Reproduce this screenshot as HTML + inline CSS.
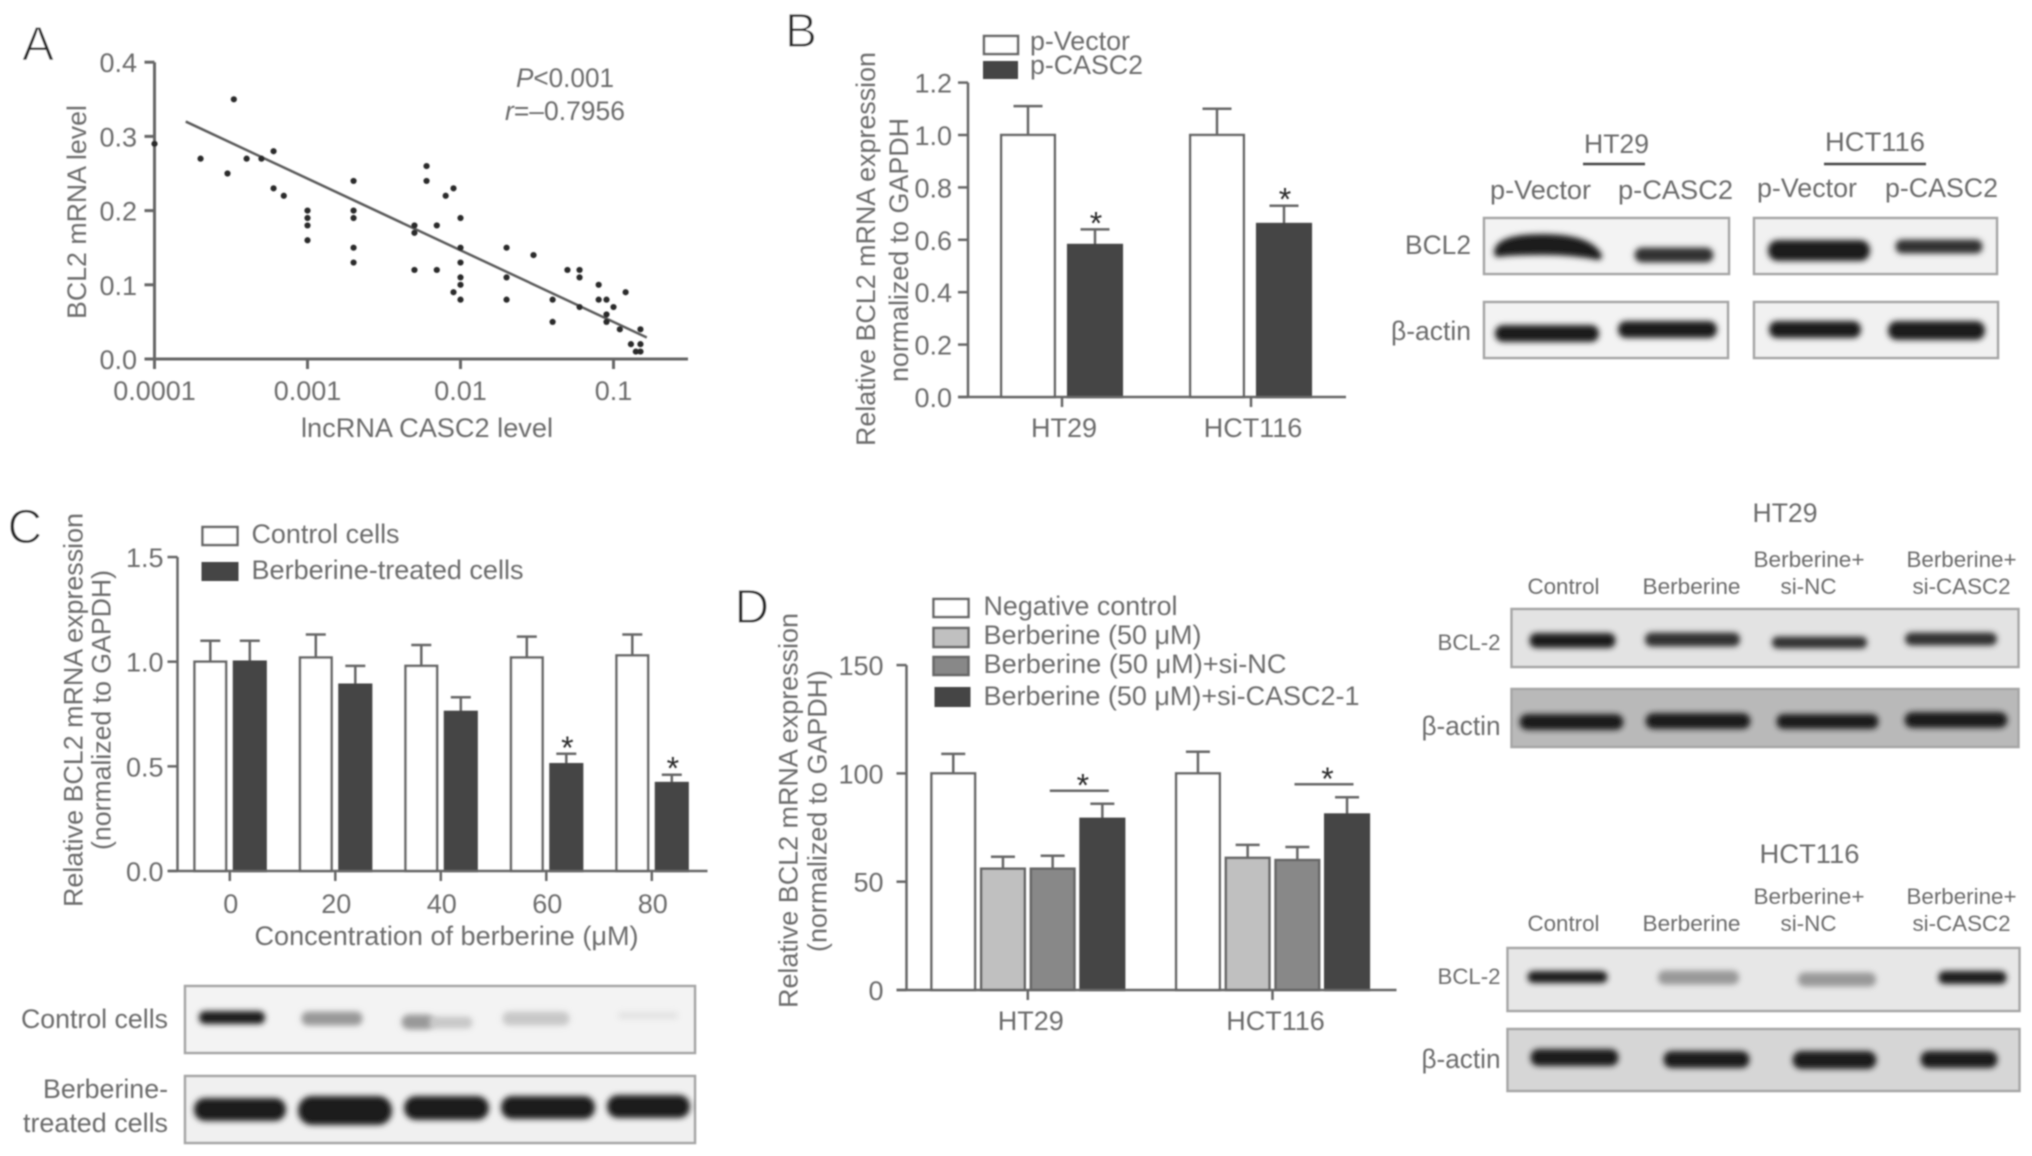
<!DOCTYPE html>
<html lang="en">
<head>
<meta charset="utf-8">
<title>BCL2 expression figure</title>
<style>
html,body{margin:0;padding:0;background:#fff;width:2032px;height:1156px;overflow:hidden}
svg{display:block}
text{font-family:"Liberation Sans",sans-serif;font-size:27px;fill:#6c6c6c}
.letter{font-size:48px;fill:#2a2a2a;stroke:#fff;stroke-width:1px}
.small{font-size:22.5px}
.box{stroke:#a6a6a6;stroke-width:2.5}
.dk{fill:#1b1b1b;stroke:#1b1b1b;stroke-width:8;stroke-linejoin:round;filter:url(#band)}
.md{fill:#333;stroke:#333;stroke-width:5;stroke-linejoin:round;filter:url(#band)}
.lt{fill:#999;stroke:#999;stroke-width:5;stroke-linejoin:round;filter:url(#band)}
.fa{fill:#c8c8c8;stroke:#c8c8c8;stroke-width:5;stroke-linejoin:round;filter:url(#band)}
</style>
</head>
<body>
<svg id="figure" xmlns="http://www.w3.org/2000/svg" width="2032" height="1156" viewBox="0 0 2032 1156">
<defs>
<filter id="soft" filterUnits="userSpaceOnUse" x="0" y="0" width="2032" height="1156"><feGaussianBlur stdDeviation="0.8"/></filter>
<filter id="band" filterUnits="userSpaceOnUse" x="-20" y="-20" width="2072" height="1196"><feGaussianBlur stdDeviation="3"/></filter>
</defs>
<rect width="2032" height="1156" fill="#fff"/>
<g id="root" filter="url(#soft)">

<!-- Panel A -->
<g id="panelA">
<text class="letter" x="22" y="60">A</text>
<text x="516" y="87" textLength="98" lengthAdjust="spacingAndGlyphs"><tspan font-style="italic">P</tspan>&lt;0.001</text>
<text x="505" y="120" textLength="120" lengthAdjust="spacingAndGlyphs"><tspan font-style="italic">r</tspan>=–0.7956</text>
<text x="301" y="437" textLength="252" lengthAdjust="spacingAndGlyphs">lncRNA CASC2 level</text>
<text transform="translate(86 319) rotate(-90)" textLength="214" lengthAdjust="spacingAndGlyphs">BCL2 mRNA level</text>
</g>

<!-- Panel B -->
<g id="panelB" transform="translate(-1 0)">
<text class="letter" x="786" y="47">B</text>
<rect x="985" y="36" width="34" height="18" fill="#fff" stroke="#666" stroke-width="2.5"/>
<rect x="984" y="61" width="35" height="18" fill="#444"/>
<text x="1031" y="50" textLength="100" lengthAdjust="spacingAndGlyphs">p-Vector</text>
<text x="1031" y="74" textLength="113" lengthAdjust="spacingAndGlyphs">p-CASC2</text>
<text transform="translate(876 446) rotate(-90)" textLength="394" lengthAdjust="spacingAndGlyphs">Relative BCL2 mRNA expression</text>
<text transform="translate(909 382) rotate(-90)" textLength="264" lengthAdjust="spacingAndGlyphs">normalized to GAPDH</text>
</g>

<!-- Panel B blots -->
<g id="blotB" transform="translate(-2 0)">
<text x="1586" y="153" textLength="65" lengthAdjust="spacingAndGlyphs">HT29</text>
<line x1="1585" x2="1647" y1="164" y2="164" stroke="#444" stroke-width="2.5"/>
<text x="1827" y="151" textLength="100" lengthAdjust="spacingAndGlyphs">HCT116</text>
<line x1="1826" x2="1928" y1="164" y2="164" stroke="#444" stroke-width="2.5"/>
<text x="1492" y="199" textLength="101" lengthAdjust="spacingAndGlyphs">p-Vector</text>
<text x="1620" y="199" textLength="115" lengthAdjust="spacingAndGlyphs">p-CASC2</text>
<text x="1759" y="197" textLength="100" lengthAdjust="spacingAndGlyphs">p-Vector</text>
<text x="1887" y="197" textLength="113" lengthAdjust="spacingAndGlyphs">p-CASC2</text>
<text x="1407" y="254" textLength="66" lengthAdjust="spacingAndGlyphs">BCL2</text>
<text x="1393" y="340" textLength="80" lengthAdjust="spacingAndGlyphs">β-actin</text>
<rect class="box" x="1486" y="218" width="245" height="56" fill="#f3f3f3"/>
<rect class="box" x="1756" y="218" width="243" height="56" fill="#f1f1f1"/>
<rect class="box" x="1486" y="302" width="244" height="56" fill="#f3f3f3"/>
<rect class="box" x="1756" y="302" width="244" height="56" fill="#f1f1f1"/>
<path class="dk" d="M1500 253Q1500 238 1545 238Q1590 238 1600 256Q1575 251 1545 251Q1515 251 1500 253Z"/>
<rect class="md" x="1639" y="250" width="74" height="10" rx="5"/>
<rect class="dk" x="1774" y="244" width="94" height="13" rx="6"/>
<rect class="md" x="1900" y="242" width="82" height="9" rx="4"/>
<rect class="dk" x="1501" y="329" width="96" height="9" rx="4"/>
<rect class="dk" x="1624" y="325" width="91" height="9" rx="4"/>
<rect class="dk" x="1775" y="325" width="84" height="9" rx="4"/>
<rect class="dk" x="1894" y="325" width="89" height="11" rx="5"/>
</g>

<!-- Panel C -->
<g id="panelC" transform="translate(-1.5 0)">
<text class="letter" x="9" y="543">C</text>
<rect x="204" y="527" width="35" height="18" fill="#fff" stroke="#666" stroke-width="2.5"/>
<rect x="203" y="562" width="37" height="19" fill="#444"/>
<text x="253" y="543" textLength="148" lengthAdjust="spacingAndGlyphs">Control cells</text>
<text x="253" y="579" textLength="272" lengthAdjust="spacingAndGlyphs">Berberine-treated cells</text>
<text x="256" y="945" textLength="384" lengthAdjust="spacingAndGlyphs">Concentration of berberine (μM)</text>
<text transform="translate(84 907) rotate(-90)" textLength="394" lengthAdjust="spacingAndGlyphs">Relative BCL2 mRNA expression</text>
<text transform="translate(112 850) rotate(-90)" textLength="280" lengthAdjust="spacingAndGlyphs">(normalized to GAPDH)</text>
</g>

<!-- Panel C blots -->
<g id="blotC" transform="translate(-2 0)">
<text x="23" y="1028" textLength="147" lengthAdjust="spacingAndGlyphs">Control cells</text>
<text x="45" y="1098" textLength="125" lengthAdjust="spacingAndGlyphs">Berberine-</text>
<text x="25" y="1132" textLength="145" lengthAdjust="spacingAndGlyphs">treated cells</text>
<rect class="box" x="187" y="986" width="510" height="67" fill="#f3f3f3"/>
<rect class="box" x="187" y="1076" width="510" height="67" fill="#f0f0f0"/>
<rect class="dk" x="205" y="1015" width="58" height="5" rx="2"/>
<rect class="lt" x="306" y="1014" width="56" height="9" rx="4"/>
<rect class="lt" x="406" y="1017" width="28" height="10" rx="5"/>
<rect class="fa" x="434" y="1019" width="38" height="7" rx="3"/>
<rect class="fa" x="507" y="1014" width="62" height="9" rx="4"/>
<rect x="620" y="1012" width="60" height="7" rx="3" fill="#e2e2e2" filter="url(#band)"/>
<rect class="dk" x="200" y="1102" width="84" height="15" rx="7"/>
<rect class="dk" x="304" y="1100" width="86" height="21" rx="10"/>
<rect class="dk" x="410" y="1100" width="77" height="16" rx="8"/>
<rect class="dk" x="507" y="1100" width="86" height="15" rx="7"/>
<rect class="dk" x="613" y="1099" width="75" height="15" rx="7"/>
</g>

<!-- Panel D -->
<g id="panelD" transform="translate(-2.5 0)">
<text class="letter" x="737" y="623">D</text>
<rect x="936" y="599" width="35" height="18" fill="#fff" stroke="#666" stroke-width="2.5"/>
<rect x="936" y="628" width="35" height="19" fill="#c0c0c0" stroke="#666" stroke-width="2.5"/>
<rect x="936" y="657" width="35" height="18" fill="#888" stroke="#666" stroke-width="2.5"/>
<rect x="937" y="687" width="36" height="20" fill="#444"/>
<text x="986" y="615" textLength="194" lengthAdjust="spacingAndGlyphs">Negative control</text>
<text x="986" y="644" textLength="218" lengthAdjust="spacingAndGlyphs">Berberine (50 μM)</text>
<text x="986" y="673" textLength="303" lengthAdjust="spacingAndGlyphs">Berberine (50 μM)+si-NC</text>
<text x="986" y="705" textLength="376" lengthAdjust="spacingAndGlyphs">Berberine (50 μM)+si-CASC2-1</text>
<text transform="translate(800 1008) rotate(-90)" textLength="395" lengthAdjust="spacingAndGlyphs">Relative BCL2 mRNA expression</text>
<text transform="translate(829 952) rotate(-90)" textLength="282" lengthAdjust="spacingAndGlyphs">(normalized to GAPDH)</text>
</g>

<!-- Panel D blots, HT29 -->
<g id="blotD1" transform="translate(-1.5 0)">
<text x="1754" y="522" textLength="65" lengthAdjust="spacingAndGlyphs">HT29</text>
<text class="small" x="1529" y="594" textLength="72" lengthAdjust="spacingAndGlyphs">Control</text>
<text class="small" x="1644" y="594" textLength="98" lengthAdjust="spacingAndGlyphs">Berberine</text>
<text class="small" x="1755" y="567" textLength="111" lengthAdjust="spacingAndGlyphs">Berberine+</text>
<text class="small" x="1782" y="594" textLength="56" lengthAdjust="spacingAndGlyphs">si-NC</text>
<text class="small" x="1908" y="567" textLength="110" lengthAdjust="spacingAndGlyphs">Berberine+</text>
<text class="small" x="1914" y="594" textLength="98" lengthAdjust="spacingAndGlyphs">si-CASC2</text>
<text class="small" x="1439" y="650" textLength="63" lengthAdjust="spacingAndGlyphs">BCL-2</text>
<text x="1423" y="735" textLength="79" lengthAdjust="spacingAndGlyphs">β-actin</text>
<rect class="box" x="1513" y="609" width="507" height="58" fill="#e3e3e3"/>
<rect class="box" x="1513" y="689" width="507" height="58" fill="#b9b9b9"/>
<rect class="dk" x="1535" y="637" width="78" height="7" rx="3"/>
<rect class="md" x="1649" y="635" width="90" height="9" rx="4"/>
<rect class="md" x="1776" y="639" width="90" height="7" rx="3"/>
<rect class="md" x="1909" y="635" width="87" height="8" rx="4"/>
<rect class="dk" x="1525" y="718" width="96" height="8" rx="4"/>
<rect class="dk" x="1651" y="717" width="97" height="8" rx="4"/>
<rect class="dk" x="1782" y="718" width="94" height="7" rx="3"/>
<rect class="dk" x="1910" y="716" width="95" height="8" rx="4"/>
</g>

<!-- Panel D blots, HCT116 -->
<g id="blotD2" transform="translate(-1.5 0)">
<text x="1761" y="863" textLength="100" lengthAdjust="spacingAndGlyphs">HCT116</text>
<text class="small" x="1529" y="931" textLength="72" lengthAdjust="spacingAndGlyphs">Control</text>
<text class="small" x="1644" y="931" textLength="98" lengthAdjust="spacingAndGlyphs">Berberine</text>
<text class="small" x="1755" y="904" textLength="111" lengthAdjust="spacingAndGlyphs">Berberine+</text>
<text class="small" x="1782" y="931" textLength="56" lengthAdjust="spacingAndGlyphs">si-NC</text>
<text class="small" x="1908" y="904" textLength="110" lengthAdjust="spacingAndGlyphs">Berberine+</text>
<text class="small" x="1914" y="931" textLength="98" lengthAdjust="spacingAndGlyphs">si-CASC2</text>
<text class="small" x="1439" y="984" textLength="63" lengthAdjust="spacingAndGlyphs">BCL-2</text>
<text x="1423" y="1068" textLength="79" lengthAdjust="spacingAndGlyphs">β-actin</text>
<rect class="box" x="1509" y="948" width="512" height="63" fill="#e7e7e7"/>
<rect class="box" x="1509" y="1029" width="512" height="62" fill="#d6d6d6"/>
<rect class="dk" x="1533" y="975" width="72" height="4" rx="2"/>
<rect class="lt" x="1662" y="973" width="76" height="9" rx="4"/>
<rect class="lt" x="1802" y="975" width="73" height="9" rx="4"/>
<rect class="dk" x="1944" y="975" width="60" height="5" rx="2"/>
<rect class="dk" x="1536" y="1053" width="80" height="9" rx="4"/>
<rect class="dk" x="1669" y="1055" width="78" height="9" rx="4"/>
<rect class="dk" x="1798" y="1055" width="76" height="10" rx="5"/>
<rect class="dk" x="1926" y="1055" width="69" height="9" rx="4"/>
</g>
</g>
</svg>
<script>
// Panel A data
const aXTicks = [0.0001, 0.001, 0.01, 0.1];
const aXTickLabels = ['0.0001', '0.001', '0.01', '0.1'];
const aYTicks = [0, 0.1, 0.2, 0.3, 0.4];
const aYTickLabels = ['0.0', '0.1', '0.2', '0.3', '0.4'];
const aPointsX = [0.0001,0.0002,0.0003,0.00033,0.0004,0.0005,0.0006,0.0006,0.0007,0.001,0.001,0.001,0.001,0.002,0.002,0.002,0.002,0.002,0.005,0.005,0.005,0.006,0.006,0.007,0.007,0.008,0.009,0.009,0.01,0.01,0.01,0.01,0.01,0.01,0.02,0.02,0.02,0.03,0.04,0.04,0.05,0.06,0.06,0.06,0.08,0.08,0.09,0.09,0.09,0.1,0.11,0.12,0.13,0.14,0.15,0.15,0.15];
const aPointsY = [0.29,0.27,0.25,0.35,0.27,0.27,0.28,0.23,0.22,0.20,0.19,0.18,0.16,0.24,0.20,0.19,0.15,0.13,0.18,0.17,0.12,0.26,0.24,0.18,0.12,0.22,0.23,0.09,0.19,0.15,0.13,0.11,0.10,0.08,0.15,0.11,0.08,0.14,0.08,0.05,0.12,0.12,0.11,0.07,0.10,0.08,0.08,0.06,0.05,0.07,0.04,0.09,0.02,0.01,0.04,0.02,0.01];
const aFitX = [0.00016, 0.165];
const aFitY = [0.32, 0.029];

// Panel B data
const bCategories = ['HT29', 'HCT116'];
const bYTicks = [0, 0.2, 0.4, 0.6, 0.8, 1.0, 1.2];
const bYTickLabels = ['0.0', '0.2', '0.4', '0.6', '0.8', '1.0', '1.2'];
const bVector = [1.0, 1.0];
const bVectorErr = [1.11, 1.10];
const bCasc2 = [0.58, 0.66];
const bCasc2Err = [0.64, 0.73];

// Panel C data
const cCategories = ['0', '20', '40', '60', '80'];
const cYTicks = [0, 0.5, 1.0, 1.5];
const cYTickLabels = ['0.0', '0.5', '1.0', '1.5'];
const cControl = [1.0, 1.02, 0.98, 1.02, 1.03];
const cControlErr = [1.10, 1.13, 1.08, 1.12, 1.13];
const cTreated = [1.0, 0.89, 0.76, 0.51, 0.42];
const cTreatedErr = [1.10, 0.98, 0.83, 0.56, 0.46];
const cTreatedSignificant = [false, false, false, true, true];

// Panel D data
const dCategories = ['HT29', 'HCT116'];
const dYTicks = [0, 50, 100, 150];
const dYTickLabels = ['0', '50', '100', '150'];
const dNegative = [100, 100];
const dNegativeErr = [109, 110];
const dBerberine = [56, 61];
const dBerberineErr = [61.5, 67];
const dSiNc = [56, 60];
const dSiNcErr = [62, 66];
const dSiCasc2 = [79, 81];
const dSiCasc2Err = [86, 89];

const NS = 'http://www.w3.org/2000/svg';
const AXIS = '#666';

function mk(parent, tag, attrs, content) {
  const el = document.createElementNS(NS, tag);
  for (const k in attrs) el.setAttribute(k, attrs[k]);
  if (content !== undefined) el.textContent = content;
  parent.appendChild(el);
  return el;
}

function line(parent, x1, y1, x2, y2, sw, stroke) {
  return mk(parent, 'line', {x1: x1, y1: y1, x2: x2, y2: y2, stroke: stroke || AXIS, 'stroke-width': sw});
}

function yAxis(parent, xPos, yScale, ticks, labels, labelEnd, sw) {
  const spine = line(parent, xPos, yScale(ticks[ticks.length - 1]), xPos, yScale(ticks[0]), sw);
  
  
  ticks.forEach(function (t, i) {
    const tick = line(parent, xPos - 10, yScale(t), xPos, yScale(t), sw);
    
    
    const lab = mk(parent, 'text', {x: labelEnd, y: yScale(t) + 10, 'text-anchor': 'end'}, labels[i]);
    
    
  });
}

function categoryAxis(parent, x0, x1, y, centers, labels, labelY, sw, labelNudge) {
  const spine = line(parent, x0, y, x1, y, sw);
  
  
  centers.forEach(function (c, i) {
    const tick = line(parent, c, y, c, y + 10, sw);
    
    
    const lab = mk(parent, 'text', {x: c + labelNudge, y: labelY, 'text-anchor': 'middle'}, labels[i]);
    
    
  });
}

function bar(parent, cx, w, yScale, value, errTop, fill, cap) {
  const yTop = yScale(value);
  const yBase = yScale(0);
  const e = yScale(errTop);
  const stem = line(parent, cx, e, cx, yTop, 2.5);
  
  
  const capLine = line(parent, cx - cap / 2, e, cx + cap / 2, e, 2.5);
  
  
  const r = mk(parent, 'rect', {x: cx - w / 2 + 1.2, y: yTop, width: w - 2.4, height: yBase - yTop, fill: fill, stroke: fill === '#444' ? '#444' : AXIS, 'stroke-width': 2.5});
  
  
}

function star(parent, x, centerY) {
  const s = mk(parent, 'text', {x: x, y: centerY + 18, 'text-anchor': 'middle', style: 'font-size:32px;fill:#2a2a2a'}, '*');
  
  
}

/* Panel A */
(function () {
  const g = document.getElementById('panelA');
  const xS = function (v) { return 154.5 + (Math.log10(v) + 4) * 153; };
  const yS = function (v) { return 359 - v * 742; };
  yAxis(g, 154.5, yS, aYTicks, aYTickLabels, 137, 3);
  const xLine = line(g, 145, yS(0), 688, yS(0), 3);
  
  
  aXTicks.forEach(function (t, i) {
    const tick = line(g, xS(t), yS(0), xS(t), yS(0) + 10, 3);
    
    
    const lab = mk(g, 'text', {x: xS(t), y: 400, 'text-anchor': 'middle'}, aXTickLabels[i]);
    
    
  });
  const fit = line(g, xS(aFitX[0]), yS(aFitY[0]), xS(aFitX[1]), yS(aFitY[1]), 2.5, '#5a5a5a');
  
  
  aPointsX.forEach(function (x, i) {
    const c = mk(g, 'circle', {cx: xS(x), cy: yS(aPointsY[i]), r: 3.1, fill: '#2c2c2c'});
    
    
  });
})();

/* Panel B */
(function () {
  const g = document.getElementById('panelB');
  const yS = function (v) { return 397 - v * 262; };
  const xS = function (i) { return 1063 + i * 189; };
  yAxis(g, 969, yS, bYTicks, bYTickLabels, 953, 2.5);
  bCategories.forEach(function (c, i) {
    bar(g, xS(i) - 34, 56, yS, bVector[i], bVectorErr[i], '#fff', 29);
    bar(g, xS(i) + 33, 56, yS, bCasc2[i], bCasc2Err[i], '#444', 29);
    star(g, xS(i) + 34, yS(bCasc2Err[i]) - 13);
  });
  categoryAxis(g, 959, 1347, yS(0), bCategories.map(function (c, i) { return xS(i); }), bCategories, 437, 2.5, 2);
})();

/* Panel C */
(function () {
  const g = document.getElementById('panelC');
  const yS = function (v) { return 871 - v * 209.3; };
  const xS = function (i) { return 231.3 + i * 105.5; };
  yAxis(g, 179, yS, cYTicks, cYTickLabels, 165, 2.5);
  cCategories.forEach(function (c, i) {
    bar(g, xS(i) - 19.5, 34, yS, cControl[i], cControlErr[i], '#fff', 20);
    bar(g, xS(i) + 20, 34, yS, cTreated[i], cTreatedErr[i], '#444', 20);
    if (cTreatedSignificant[i]) star(g, xS(i) + 21, yS(cTreatedErr[i]) - 13);
  });
  categoryAxis(g, 170, 709, yS(0), cCategories.map(function (c, i) { return xS(i); }), cCategories, 913, 2.5, 1);
})();

/* Panel D */
(function () {
  const g = document.getElementById('panelD');
  const yS = function (v) { return 990 - v * 2.166; };
  const xS = function (i) { return 1030.3 + i * 244.7; };
  const step = 49.7;
  yAxis(g, 909, yS, dYTicks, dYTickLabels, 886, 2.5);
  dCategories.forEach(function (c, i) {
    bar(g, xS(i) - 1.5 * step, 46, yS, dNegative[i], dNegativeErr[i], '#fff', 24);
    bar(g, xS(i) - 0.5 * step, 46, yS, dBerberine[i], dBerberineErr[i], '#c0c0c0', 24);
    bar(g, xS(i) + 0.5 * step, 46, yS, dSiNc[i], dSiNcErr[i], '#888', 24);
    bar(g, xS(i) + 1.5 * step, 46, yS, dSiCasc2[i], dSiCasc2Err[i], '#444', 24);
    const sigY = yS(dSiCasc2Err[i]) - 13;
    const sig = line(g, xS(i) + 22, sigY, xS(i) + 81, sigY, 2.5);
    
    
    star(g, xS(i) + 55, sigY - 12);
  });
  categoryAxis(g, 899, 1399, yS(0), dCategories.map(function (c, i) { return xS(i); }), dCategories, 1030, 2.5, 3);
})();
</script>
</body>
</html>
